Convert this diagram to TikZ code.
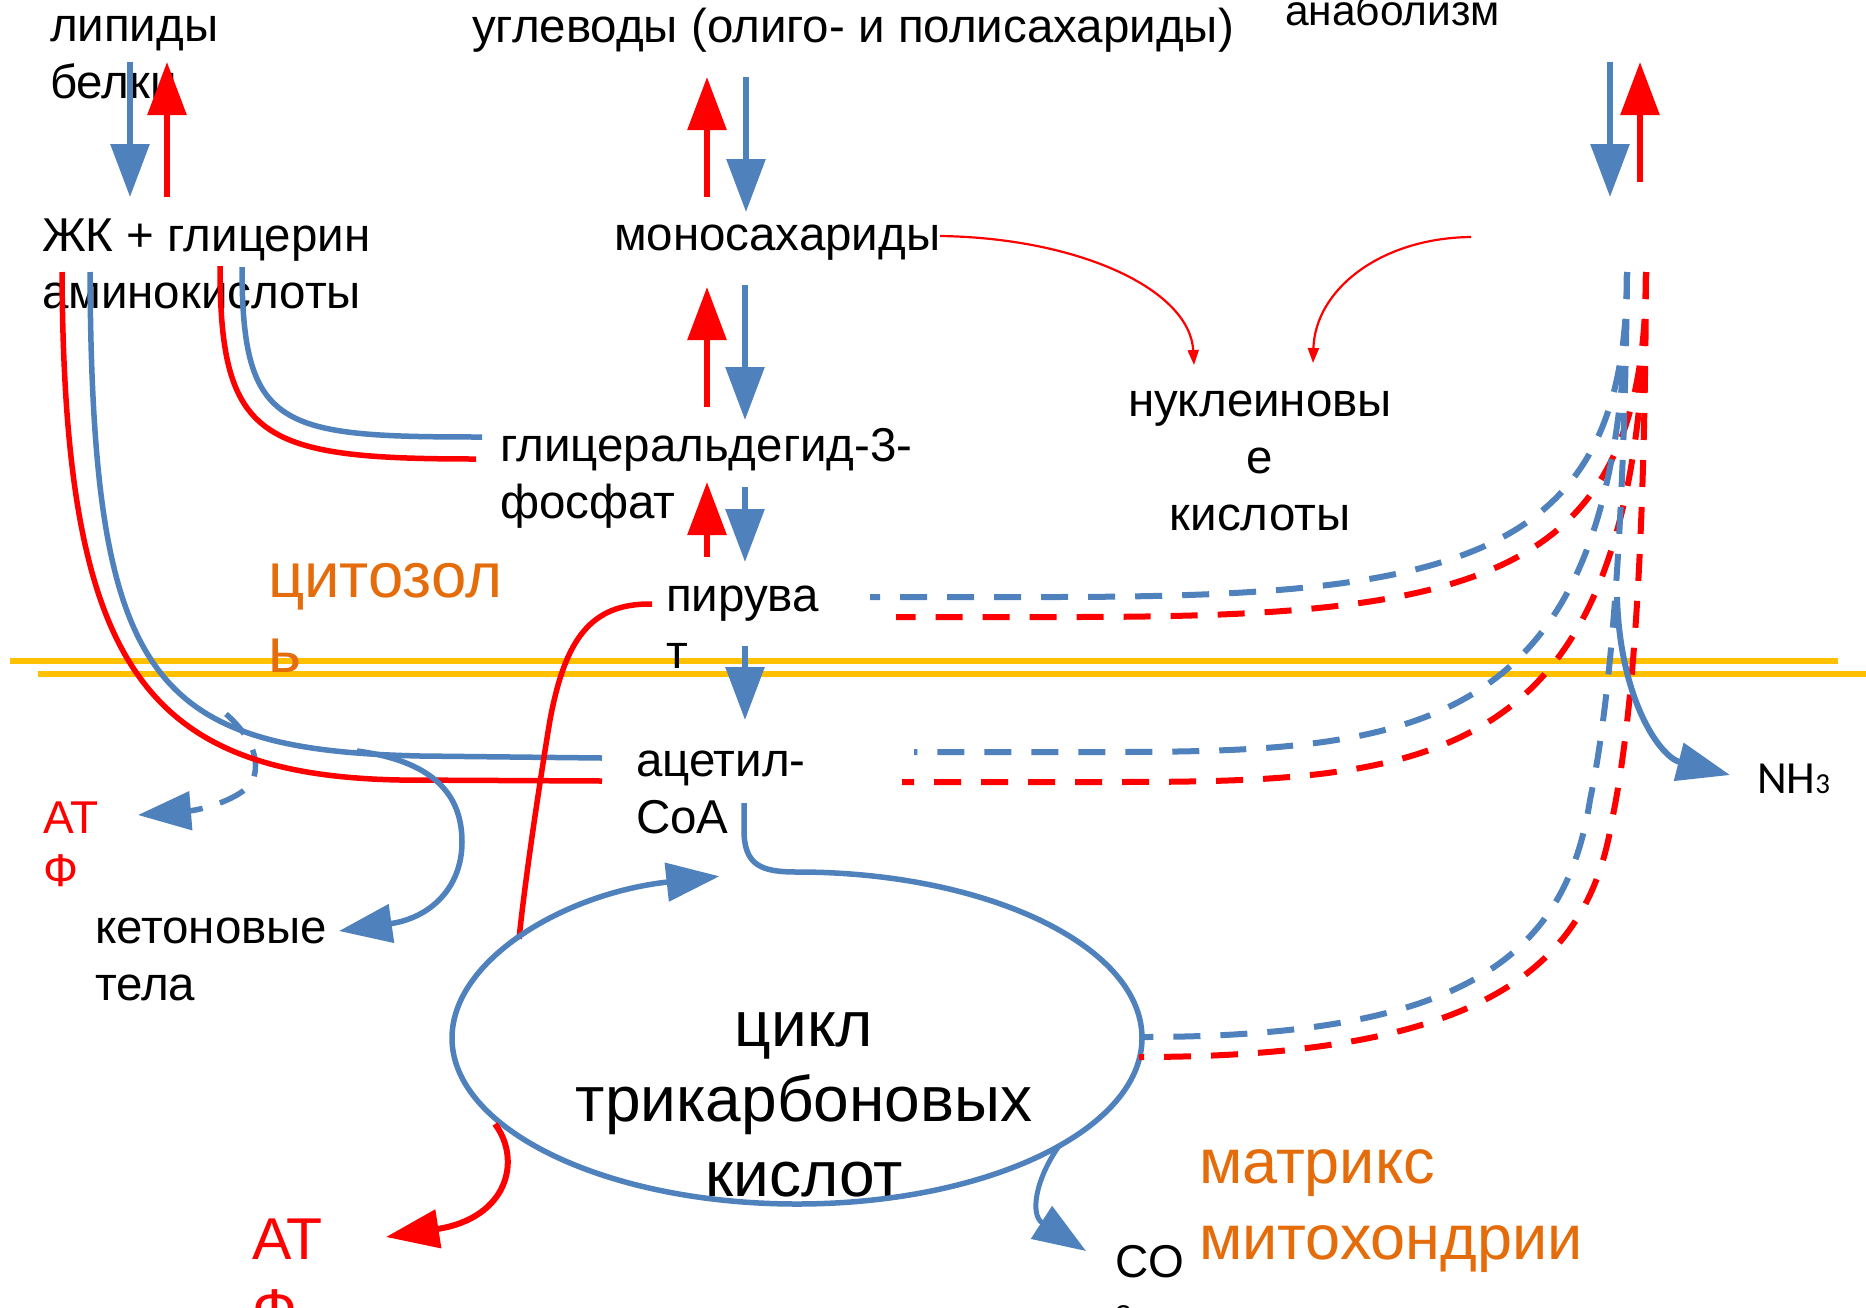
\documentclass[tikz,border=0pt]{standalone}
\usepackage{fontspec}
\setmainfont{Liberation Sans}
\newfontfamily\calibrifont{Carlito}
\usetikzlibrary{arrows.meta}
\definecolor{pblue}{HTML}{4F81BD}
\definecolor{pred}{HTML}{FF0000}
\definecolor{pyellow}{HTML}{FFC000}
\definecolor{porange}{HTML}{E46C0A}
\begin{document}
\begin{tikzpicture}[x=1pt,y=-1pt,
  every node/.style={inner sep=0pt,outer sep=0pt},
  txt/.style={font=\fontsize{47.5}{57}\selectfont, align=left, anchor=base west},
  ctxt/.style={font=\fontsize{47.5}{57}\selectfont, align=center, anchor=base},
  bline/.style={draw=pblue, line width=5.5pt},
  rline/.style={draw=pred, line width=5.5pt},
  bigtip/.style={-{Triangle[width=38pt,length=53pt]}},
  barrow/.style={draw=pblue, line width=6pt, bigtip},
  rarrow/.style={draw=pred, line width=6pt, bigtip},
  bdash/.style={draw=pblue, line width=6pt, dash pattern=on 27pt off 20pt},
  rdash/.style={draw=pred, line width=6pt, dash pattern=on 27pt off 20pt},
  thinr/.style={draw=pred, line width=2.2pt, -{Triangle[width=11pt,length=15pt]}},
  memb/.style={draw=pyellow, line width=6pt},
]
\useasboundingbox (0,0) rectangle (1866,1307);
\fill[white] (0,0) rectangle (1866,1307);

% ---------- coordinates ----------
\coordinate (a1s) at (130,62);  \coordinate (a1e) at (130,197);
\coordinate (a2s) at (167,197); \coordinate (a2e) at (167,62);
\coordinate (c1s) at (707,197); \coordinate (c1e) at (707,77);
\coordinate (c2s) at (746,77);  \coordinate (c2e) at (746,212);
\coordinate (m1s) at (707,407); \coordinate (m1e) at (707,287);
\coordinate (m2s) at (745,285); \coordinate (m2e) at (745,420);
\coordinate (g1s) at (707,557); \coordinate (g1e) at (707,482);
\coordinate (g2s) at (745,487); \coordinate (g2e) at (745,562);
\coordinate (p1s) at (745,646); \coordinate (p1e) at (745,720);
\coordinate (r1s) at (1610,62); \coordinate (r1e) at (1610,197);
\coordinate (r2s) at (1640,182);\coordinate (r2e) at (1640,62);
\coordinate (memA1) at (10,661);  \coordinate (memA2) at (1838,661);
\coordinate (memB1) at (38,674);  \coordinate (memB2) at (1870,674);
\coordinate (zkR) at (62,272);  \coordinate (acR) at (602,781);
\coordinate (zkB) at (90,272);  \coordinate (acB) at (602,758);
\coordinate (amR) at (220,266); \coordinate (gR) at (476,459);
\coordinate (amB) at (242,267); \coordinate (gB) at (482,437);
\coordinate (ketS) at (357,751); \coordinate (ketT) at (339,931);
\coordinate (atpS) at (226,714); \coordinate (atpT) at (138,815);
\coordinate (pyrL) at (652,604); \coordinate (tcaPy) at (519,939);
\coordinate (coaB) at (744,803);
\coordinate (tcaAtp) at (495,1124); \coordinate (atpBigT) at (386,1237);
\coordinate (tcaCo) at (1059,1146); \coordinate (coT) at (1086,1251);
\coordinate (nhS) at (1617,597); \coordinate (nhT) at (1730,775);
\coordinate (monoE) at (940,236); \coordinate (nukL) at (1194,365);
\coordinate (anaR) at (1471,237); \coordinate (nukR) at (1313,363);
\coordinate (topB) at (1627,272); \coordinate (topR) at (1646,272);
\coordinate (pyrB) at (870,597);  \coordinate (pyrR) at (896,617);
\coordinate (acdB) at (914,752);  \coordinate (acdR) at (902,782);
\coordinate (tcaB) at (1141,1037); \coordinate (tcaR) at (1139,1057);

% ---------- membrane ----------
\draw[memb] (memA1) -- (memA2);
\draw[memb] (memB1) -- (memB2);

% ---------- texts (anchored at the baseline of the last line) ----------
\node[txt] (lip) at (50,98) {липиды\\белки};
\node[txt] (ugl) at (472,42) {углеводы (олиго- и полисахариды)};
\node[txt, font=\fontsize{42.5}{50}\selectfont] (ana) at (1285,25) {анаболизм};
\node[txt] (zk) at (42,308) {ЖК + глицерин\\аминокислоты};
\node[txt] (mono) at (614,250) {моносахариды};
\node[txt] (gap) at (500,518) {глицеральдегид-3-\\фосфат};
\node[ctxt] (nuk) at (1260,530) {нуклеиновы\\е\\кислоты};
\node[txt, text=porange, font=\fontsize{63.5}{75}\selectfont] (cyt) at (268,672) {цитозол\\ь};
\node[txt] (pyr) at (666,668) {пирува\\т};
\node[txt] (acoa) at (636,833) {ацетил-\\CoA};
\node[txt, text=pred, font=\fontsize{46}{53}\selectfont] (atp1) at (43,886) {АТ\\Ф};
\node[txt] (ket) at (95,1000) {кетоновые\\тела};
\node[ctxt, font=\fontsize{64}{75}\selectfont] (tca) at (804,1196) {цикл\\трикарбоновых\\кислот};
\node[txt, text=pred, font=\fontsize{59}{71}\selectfont] (atp2) at (252,1330) {АТ\\Ф};
\node[txt, font=\fontsize{46}{57}\selectfont] (co2) at (1115,1326) {CO\\[-8pt]{\fontsize{30}{30}\selectfont 2}};
\node[txt, text=porange, font=\fontsize{63}{76}\selectfont] (mat) at (1199,1259) {матрикс\\митохондрии};
\node[txt, font=\calibrifont\fontsize{46}{50}\selectfont] (nh3) at (1757,793) {NH{\fontsize{29}{29}\selectfont 3}};

% ---------- vertical arrows ----------
\draw[barrow] (a1s) -- (a1e);
\draw[rarrow] (a2s) -- (a2e);
\draw[rarrow] (c1s) -- (c1e);
\draw[barrow] (c2s) -- (c2e);
\draw[rarrow] (m1s) -- (m1e);
\draw[barrow] (m2s) -- (m2e);
\draw[rarrow] (g1s) -- (g1e);
\draw[barrow] (g2s) -- (g2e);
\draw[barrow] (p1s) -- (p1e);
\draw[barrow] (r1s) -- (r1e);
\draw[rarrow] (r2s) -- (r2e);

% ---------- thin red arrows to nucleic acids ----------
\draw[thinr] (monoE) .. controls (1080,238) and (1190,290) .. (nukL);
\draw[thinr] (anaR) .. controls (1380,238) and (1315,290) .. (nukR);

% ---------- ATP dashed from beta-oxidation ----------
\draw[draw=pblue, line width=5.5pt, dash pattern=on 27pt off 18pt, bigtip]
  (atpS) .. controls (250,735) and (262,760) .. (252,782) .. controls (240,800) and (200,810) .. (atpT);

% ---------- lipid / amino acid lines ----------
\draw[bline] (zkB) .. controls (92,680) and (150,750) .. (420,756) -- (acB);
\draw[rline] (zkR) .. controls (64,660) and (140,775) .. (400,780) -- (acR);
\draw[rline] (amR) .. controls (220,440) and (260,459) .. (gR);
\draw[bline] (amB) .. controls (242,430) and (280,437) .. (gB);

% ---------- ketone bodies ----------
\draw[draw=pblue, line width=5.5pt, bigtip]
  (ketS) .. controls (440,762) and (462,800) .. (462,842) .. controls (462,888) and (430,918) .. (ketT);

% ---------- pyruvate (gluconeogenesis) ----------
\draw[rline] (pyrL) .. controls (590,603) and (565,640) .. (550,720) .. controls (540,780) and (525,880) .. (tcaPy);

% ---------- TCA cycle ----------
\draw[draw=pblue, line width=5.5pt, bigtip]
  (coaB) -- (744,830) .. controls (744,866) and (762,872) .. (797,872)
  arc[start angle=270, end angle=617, x radius=345, y radius=166];

\draw[rarrow] (tcaAtp) .. controls (522,1160) and (508,1218) .. (atpBigT);
\draw[draw=pblue, line width=5pt, bigtip] (tcaCo) .. controls (1035,1180) and (1030,1215) .. (coT);

% ---------- right dashed pairs ----------
\draw[bdash] (topB) .. controls (1627,560) and (1460,597) .. (1050,597) -- (pyrB);
\draw[rdash] (topR) .. controls (1646,580) and (1480,617) .. (1070,617) -- (pyrR);
\draw[bdash] (topB) .. controls (1625,740) and (1420,752) .. (1100,752) -- (acdB);
\draw[rdash] (topR) .. controls (1643,770) and (1440,782) .. (1110,782) -- (acdR);
\draw[bdash] (topB) .. controls (1625,480) and (1615,680) .. (1590,800) .. controls (1565,960) and (1460,1037) .. (tcaB);
\draw[rdash] (topR) .. controls (1645,500) and (1637,700) .. (1612,820) .. controls (1588,970) and (1480,1057) .. (tcaR);

% ---------- NH3 ----------
\draw[barrow] (nhS) .. controls (1620,700) and (1660,757) .. (nhT);
\end{tikzpicture}
\end{document}
